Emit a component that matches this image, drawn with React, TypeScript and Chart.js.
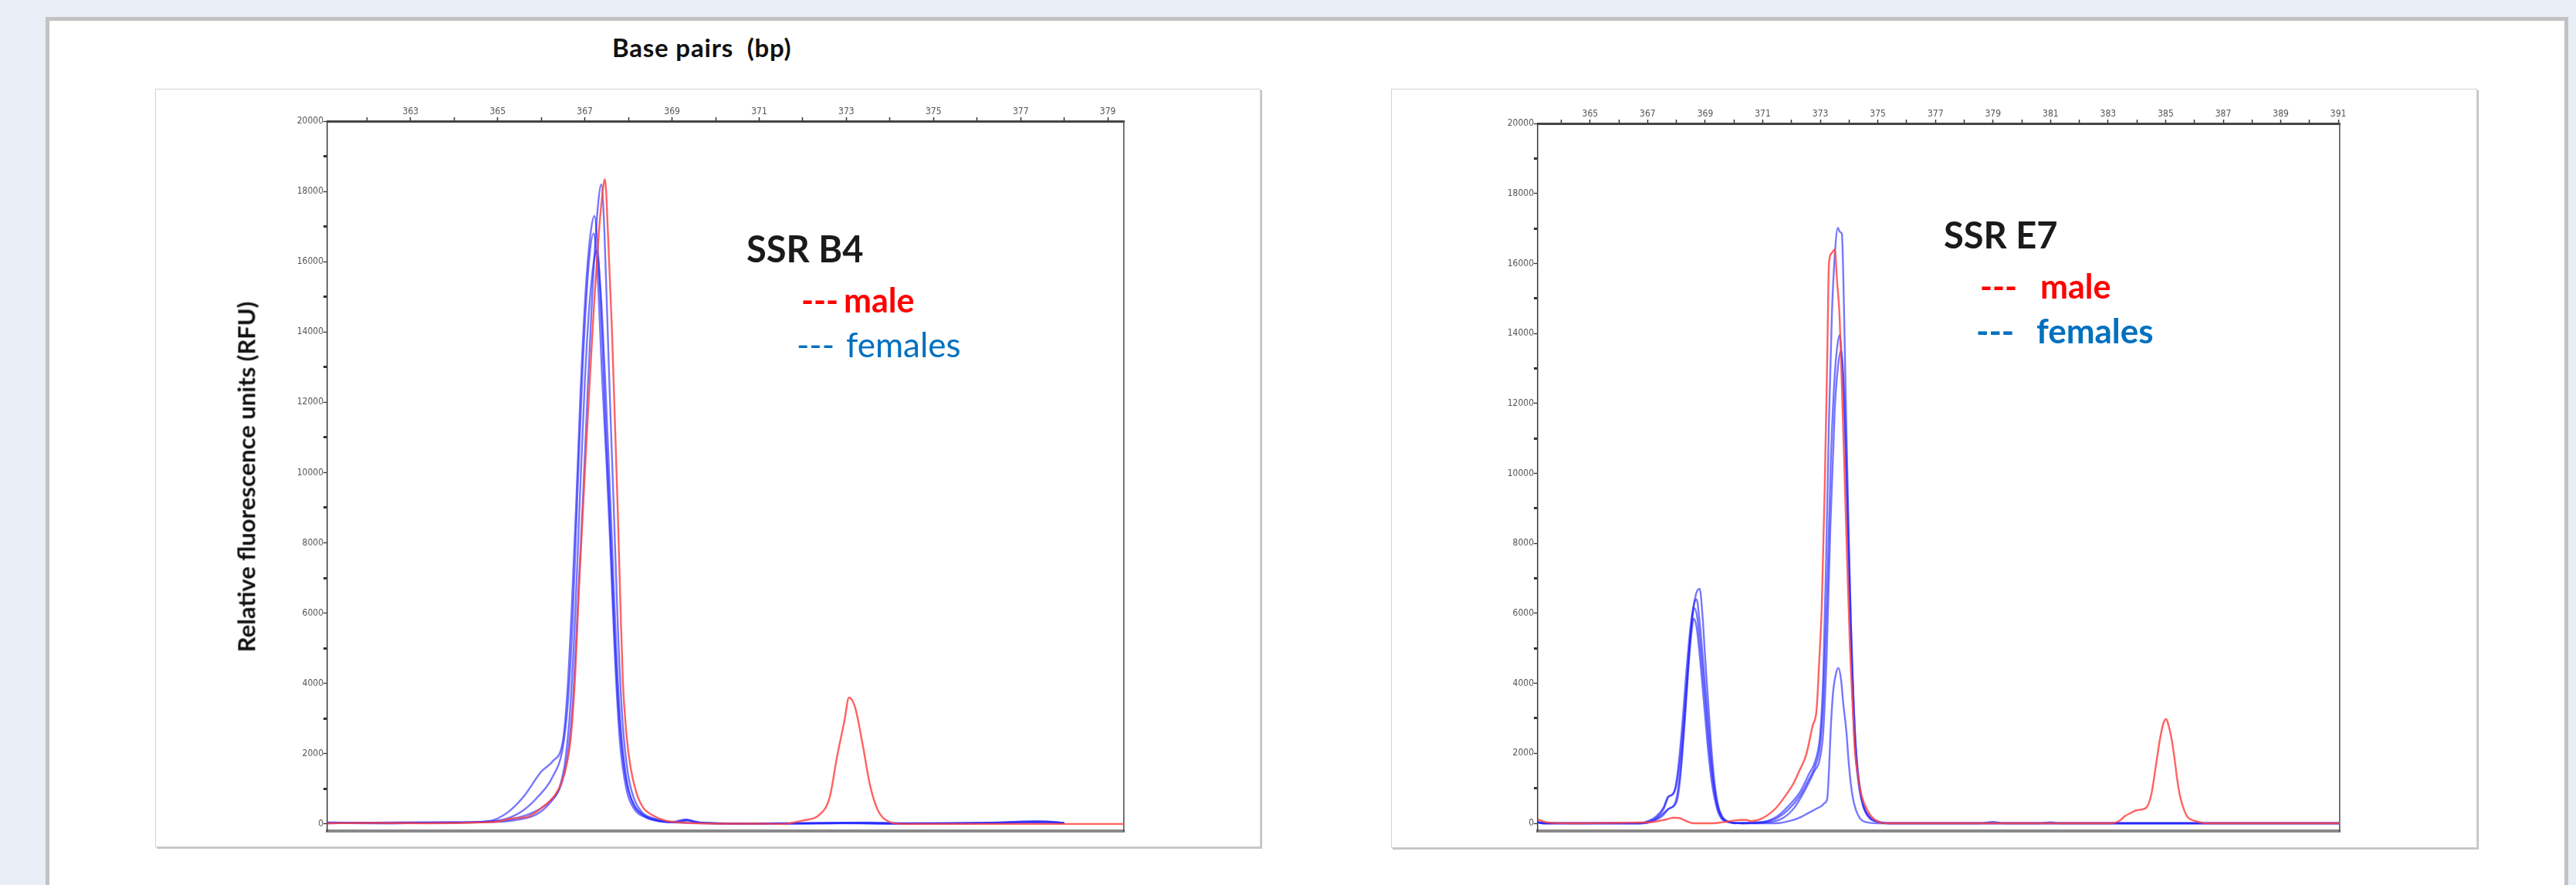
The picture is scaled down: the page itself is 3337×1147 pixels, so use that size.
import React, { useEffect, useRef } from 'react';
import { Chart, registerables } from 'chart.js';
Chart.register(...registerables);

type Pt = [number, number];

// ---------- tick values ----------
const B4_X_TICKS = [362, 363, 364, 365, 366, 367, 368, 369, 370, 371, 372, 373, 374, 375, 376, 377, 378, 379];
const E7_X_TICKS = [364, 365, 366, 367, 368, 369, 370, 371, 372, 373, 374, 375, 376, 377, 378, 379, 380, 381, 382, 383, 384, 385, 386, 387, 388, 389, 390, 391];
const Y_TICKS = [0, 1000, 2000, 3000, 4000, 5000, 6000, 7000, 8000, 9000, 10000, 11000, 12000, 13000, 14000, 15000, 16000, 17000, 18000, 19000, 20000];

// ---------- SSR B4 traces (bp, RFU) ----------
const B4_MALE: Pt[] = [
  [361.1, 20], [362.2, 30], [363.4, 20], [364.5, 40], [365.0, 70], [365.3, 150], [365.7, 210], [366.03, 480],
  [366.3, 800], [366.47, 1190], [366.6, 1800], [366.68, 2480], [366.78, 4300], [366.86, 6600], [366.95, 8800],
  [367.04, 10970], [367.13, 13000], [367.22, 14970], [367.32, 16800], [367.4, 17900], [367.46, 18350],
  [367.54, 16500], [367.62, 14090], [367.68, 11800], [367.75, 9100], [367.81, 6500], [367.87, 4110],
  [367.95, 2600], [368.05, 1600], [368.18, 900], [368.33, 480], [368.55, 250], [368.81, 110], [369.2, 40],
  [370.0, 10], [371.0, 10], [371.52, 0], [372.0, 100], [372.36, 240], [372.62, 770], [372.78, 1870],
  [372.96, 2960], [373.06, 3600], [373.2, 3320], [373.38, 2220], [373.54, 1120], [373.72, 400], [373.97, 70],
  [374.3, 0], [379.37, 0],
];
const B4_FEMALE_1: Pt[] = [
  [361.1, 30], [362.5, 20], [363.5, 40], [364.5, 50], [365.0, 60], [365.5, 130], [365.9, 280], [366.2, 600],
  [366.45, 1100], [366.6, 1900], [366.72, 3400], [366.83, 6000], [366.95, 9100], [367.07, 12500],
  [367.18, 15300], [367.28, 17300], [367.38, 18200], [367.45, 16800], [367.55, 13000], [367.66, 9100],
  [367.76, 5500], [367.86, 3000], [367.98, 1500], [368.12, 750], [368.3, 350], [368.6, 150], [369.0, 60],
  [369.3, 130], [369.5, 60], [370.0, 20], [371.5, 10], [373.0, 20], [374.0, 10], [376.0, 20], [377.0, 60],
  [377.5, 40], [378.0, 20],
];
const B4_FEMALE_2: Pt[] = [
  [361.1, 40], [362.3, 30], [363.2, 50], [364.2, 40], [364.8, 80], [365.23, 330], [365.59, 770], [366.0, 1490],
  [366.26, 1780], [366.5, 2400], [366.6, 3800], [366.7, 6200], [366.8, 9100], [366.9, 12300], [367.02, 15200],
  [367.13, 16800], [367.22, 17300], [367.3, 16300], [367.4, 13800], [367.48, 11200], [367.56, 9100],
  [367.66, 6000], [367.76, 3500], [367.88, 1800], [368.0, 950], [368.15, 500], [368.35, 250], [368.7, 100],
  [369.1, 50], [369.35, 120], [369.6, 40], [370.5, 10], [372.5, 20], [373.5, 40], [374.5, 10], [376.5, 40],
  [377.3, 80], [378.0, 30],
];
const B4_FEMALE_3: Pt[] = [
  [361.1, 20], [362.6, 40], [363.6, 30], [364.6, 60], [365.2, 150], [365.6, 400], [365.92, 770], [366.26, 1340],
  [366.5, 2220], [366.62, 3600], [366.72, 5800], [366.82, 9100], [366.95, 13000], [367.08, 15800],
  [367.2, 16800], [367.28, 15900], [367.4, 12600], [367.5, 10200], [367.58, 8000], [367.68, 5000],
  [367.8, 2400], [367.95, 1000], [368.12, 450], [368.4, 180], [368.8, 60], [369.4, 30], [370.5, 10],
  [373.0, 30], [374.0, 10], [376.8, 30], [377.6, 70], [378.0, 20],
];
const B4_FEMALE_4: Pt[] = [
  [361.1, 30], [362.4, 20], [363.8, 40], [364.8, 60], [365.4, 160], [365.9, 380], [366.2, 650], [366.42, 1050],
  [366.55, 1800], [366.67, 3400], [366.78, 6000], [366.88, 9100], [367.0, 12600], [367.12, 15000],
  [367.27, 16300], [367.36, 15200], [367.46, 12800], [367.54, 10500], [367.62, 8100], [367.72, 5000],
  [367.82, 2800], [367.95, 1300], [368.1, 600], [368.3, 280], [368.6, 110], [369.0, 50], [369.4, 100],
  [369.7, 30], [371.0, 10], [372.8, 30], [374.2, 20], [376.2, 30], [377.8, 50], [378.0, 20],
];

// ---------- SSR E7 traces (bp, RFU) ----------
const E7_MALE: Pt[] = [
  [363.18, 120], [363.35, 60], [363.6, 20], [364.5, 0], [365.5, 10], [366.5, 20], [367.2, 40], [367.6, 100],
  [367.9, 160], [368.1, 150], [368.35, 60], [368.6, 0], [369.2, 0], [369.6, 30], [370.0, 80], [370.4, 100],
  [370.6, 60], [370.95, 130], [371.44, 420], [371.8, 800], [372.06, 1130], [372.3, 1550], [372.51, 1960],
  [372.73, 2780], [372.87, 3250], [372.96, 4600], [373.05, 6200], [373.15, 9500], [373.24, 13300],
  [373.3, 16000], [373.4, 16300], [373.5, 16400], [373.58, 15500], [373.67, 14480], [373.76, 12200],
  [373.85, 9760], [373.94, 7300], [374.03, 5030], [374.12, 3400], [374.2, 2080], [374.32, 1300],
  [374.44, 770], [374.65, 350], [374.85, 130], [375.28, 0], [383.06, 0], [383.43, 90], [383.57, 200],
  [383.8, 300], [384.0, 375], [384.32, 440], [384.5, 820], [384.67, 1700], [384.78, 2300], [384.86, 2650],
  [384.94, 2900], [385.02, 2980], [385.1, 2800], [385.2, 2430], [385.3, 1900], [385.39, 1320], [385.48, 850],
  [385.58, 530], [385.74, 200], [385.9, 100], [386.12, 45], [386.38, 0], [391.05, 0],
];
const E7_FEMALE_1: Pt[] = [
  [363.18, 40], [363.4, 0], [366.7, 0], [367.0, 60], [367.3, 200], [367.55, 450], [367.7, 750], [367.85, 820],
  [368.0, 1100], [368.15, 2000], [368.3, 3400], [368.45, 5000], [368.6, 6200], [368.7, 6600], [368.81, 6700],
  [368.9, 6000], [369.0, 4700], [369.1, 3500], [369.2, 2300], [369.32, 1200], [369.45, 500], [369.6, 180],
  [369.8, 50], [370.0, 0], [370.5, 20], [371.0, 40], [371.5, 200], [371.9, 500], [372.3, 900], [372.6, 1400],
  [372.85, 1850], [373.0, 2600], [373.1, 4200], [373.2, 7500], [373.3, 11500], [373.4, 14500], [373.5, 16200],
  [373.61, 17020], [373.68, 16900], [373.75, 16840], [373.82, 14800], [373.9, 11500], [373.98, 8500],
  [374.06, 5800], [374.15, 3600], [374.25, 2000], [374.38, 1000], [374.5, 500], [374.7, 200], [375.0, 60],
  [375.3, 0], [378.5, 0], [379.0, 40], [379.4, 0], [391.05, 0],
];
const E7_FEMALE_2: Pt[] = [
  [363.18, 30], [363.4, 0], [366.7, 0], [367.0, 50], [367.3, 150], [367.55, 400], [367.74, 770], [367.9, 850],
  [368.05, 1500], [368.2, 2800], [368.35, 4400], [368.5, 5700], [368.62, 6300], [368.7, 6400], [368.8, 5800],
  [368.92, 4700], [369.05, 3400], [369.18, 2100], [369.3, 1100], [369.45, 450], [369.6, 150], [369.85, 30],
  [370.3, 0], [371.0, 30], [371.5, 150], [371.9, 400], [372.3, 800], [372.6, 1250], [372.85, 1700],
  [373.0, 2300], [373.12, 3800], [373.25, 7000], [373.37, 10500], [373.5, 12800], [373.6, 13700],
  [373.67, 13950], [373.74, 13400], [373.82, 12000], [373.92, 9300], [374.02, 6300], [374.12, 3700],
  [374.22, 2000], [374.35, 1000], [374.5, 450], [374.7, 150], [375.0, 40], [375.4, 0], [380.6, 0],
  [381.0, 30], [381.3, 0], [391.05, 0],
];
const E7_FEMALE_3: Pt[] = [
  [363.18, 20], [363.4, 0], [366.8, 0], [367.2, 80], [367.5, 250], [367.7, 400], [367.9, 500], [368.0, 700],
  [368.15, 1600], [368.3, 3200], [368.45, 5000], [368.55, 5900], [368.62, 6150], [368.72, 5900],
  [368.85, 4900], [369.0, 3500], [369.12, 2300], [369.25, 1300], [369.4, 550], [369.55, 200], [369.8, 40],
  [370.3, 0], [371.2, 30], [371.7, 150], [372.1, 450], [372.5, 1000], [372.8, 1500], [372.97, 1800],
  [373.1, 2600], [373.22, 4800], [373.35, 8500], [373.5, 11800], [373.62, 13100], [373.72, 13500],
  [373.8, 12800], [373.9, 10500], [374.0, 7500], [374.1, 4600], [374.2, 2600], [374.32, 1300], [374.48, 550],
  [374.7, 180], [375.0, 40], [375.4, 0], [391.05, 0],
];
const E7_FEMALE_4: Pt[] = [
  [363.18, 30], [363.4, 0], [366.8, 0], [367.2, 60], [367.5, 200], [367.74, 420], [368.0, 600], [368.12, 1200],
  [368.28, 2800], [368.43, 4600], [368.53, 5500], [368.6, 5850], [368.7, 5600], [368.82, 4700], [368.96, 3400],
  [369.1, 2100], [369.24, 1100], [369.4, 450], [369.55, 150], [369.8, 30], [370.3, 0], [371.44, 0],
  [372.0, 80], [372.33, 180], [372.6, 300], [372.87, 420], [373.05, 500], [373.15, 580], [373.24, 700],
  [373.3, 1500], [373.36, 2670], [373.45, 3800], [373.55, 4300], [373.63, 4440], [373.72, 4100],
  [373.8, 3400], [373.9, 2670], [374.0, 1600], [374.12, 770], [374.25, 350], [374.39, 130], [374.6, 30],
  [375.0, 0], [391.05, 0],
];

const TICK_FONT = "'Liberation Sans Narrow', 'DejaVu Sans Condensed', 'DejaVu Sans', sans-serif";
const RED = 'rgba(255, 70, 70, 0.85)';
const BLUE = 'rgba(35, 35, 255, 0.62)';

type Layout = { left: number; top: number; right: number; bottom: number };

function makeConfig(
  male: Pt[],
  females: Pt[][],
  xMin: number,
  xMax: number,
  xTicks: number[],
  yMin: number,
  pad: Layout
): any {
  const toXY = (p: Pt[]) => p.map(([x, y]) => ({ x, y }));
  const datasets: any[] = [
    {
      label: 'male',
      data: toXY(male),
      borderColor: RED,
      borderWidth: 2.4,
      pointRadius: 0,
      cubicInterpolationMode: 'monotone',
      fill: false,
    },
    ...females.map((f, i) => ({
      label: 'female ' + (i + 1),
      data: toXY(f),
      borderColor: BLUE,
      borderWidth: 2.4,
      pointRadius: 0,
      cubicInterpolationMode: 'monotone',
      fill: false,
    })),
  ];
  return {
    type: 'line',
    data: { datasets },
    options: {
      animation: false,
      responsive: false,
      devicePixelRatio: 1,
      layout: { padding: 0 },
      plugins: { legend: { display: false }, tooltip: { enabled: false } },
      scales: {
        x: {
          type: 'linear',
          axis: 'x',
          position: 'top',
          min: xMin,
          max: xMax,
          afterBuildTicks: (s: any) => {
            s.ticks = xTicks.map((v) => ({ value: v }));
          },
          afterFit: (s: any) => {
            s.height = pad.top;
          },
          ticks: {
            autoSkip: false,
            maxRotation: 0,
            padding: 0,
            color: '#555',
            font: { family: TICK_FONT, size: 12 },
            callback: (v: any) => (Math.round(v) % 2 === 1 ? String(v) : ''),
          },
          grid: { drawOnChartArea: false, tickLength: 5, tickColor: '#333', tickWidth: 1.5 },
          border: { color: '#444', width: 3 },
        },
        xb: {
          type: 'linear',
          axis: 'x',
          position: 'bottom',
          ticks: { display: false },
          grid: { display: false, drawTicks: false },
          border: { color: '#8a8a8a', width: 4 },
          afterFit: (s: any) => {
            s.height = pad.bottom;
          },
        },
        y: {
          type: 'linear',
          axis: 'y',
          position: 'left',
          min: yMin,
          max: 20000,
          afterBuildTicks: (s: any) => {
            s.ticks = Y_TICKS.map((v) => ({ value: v }));
          },
          afterFit: (s: any) => {
            s.width = pad.left;
          },
          ticks: {
            autoSkip: false,
            padding: 0,
            color: '#555',
            font: { family: TICK_FONT, size: 12 },
            callback: (v: any) => (Math.round(v) % 2000 === 0 ? String(v) : ''),
          },
          grid: {
            drawOnChartArea: false,
            tickLength: 5,
            tickColor: '#333',
            tickWidth: (ctx: any) => (ctx.tick && ctx.tick.value % 2000 === 0 ? 1.3 : 3),
          },
          border: { color: '#444', width: 1.6 },
        },
        yr: {
          type: 'linear',
          axis: 'y',
          position: 'right',
          ticks: { display: false },
          grid: { display: false, drawTicks: false },
          border: { color: '#555', width: 1.6 },
          afterFit: (s: any) => {
            s.width = pad.right;
          },
        },
      },
    },
  };
}

function ChartBox(props: {
  x: number;
  y: number;
  w: number;
  h: number;
  config: any;
}) {
  const ref = useRef<HTMLCanvasElement | null>(null);
  useEffect(() => {
    if (!ref.current) return;
    const chart = new Chart(ref.current, props.config);
    return () => chart.destroy();
  }, []);
  return (
    <>
      <div
        style={{
          position: 'absolute',
          left: props.x,
          top: props.y,
          width: props.w,
          height: props.h,
          boxSizing: 'border-box',
          background: '#fff',
          border: '1px solid #d2d2d2',
          boxShadow: '2px 2px 0 #c4c4c4',
        }}
      />
      <canvas
        ref={ref}
        width={props.w}
        height={props.h}
        style={{ position: 'absolute', left: props.x, top: props.y, width: props.w, height: props.h }}
      />
    </>
  );
}

const txt = (extra: React.CSSProperties): React.CSSProperties => ({
  position: 'absolute',
  whiteSpace: 'pre',
  lineHeight: 1,
  fontFamily: 'Lato, "Noto Sans", sans-serif',
  ...extra,
});

export default function App() {
  useEffect(() => {
    document.body.style.margin = '0';
    document.documentElement.style.overflow = 'hidden';
  }, []);

  const b4 = makeConfig(B4_MALE, [B4_FEMALE_1, B4_FEMALE_2, B4_FEMALE_3, B4_FEMALE_4], 361.09, 379.37, B4_X_TICKS, -200, {
    left: 223,
    top: 42,
    right: 177,
    bottom: 21,
  });
  const e7 = makeConfig(E7_MALE, [E7_FEMALE_1, E7_FEMALE_2, E7_FEMALE_3, E7_FEMALE_4], 363.18, 391.05, E7_X_TICKS, -220, {
    left: 190,
    top: 45,
    right: 178,
    bottom: 22,
  });

  return (
    <div style={{ position: 'absolute', left: 0, top: 0, width: 3337, height: 1147, overflow: 'hidden', background: '#e9edf5' }}>
      <div
        style={{
          position: 'absolute',
          left: 59,
          top: 22,
          width: 3268,
          height: 1200,
          boxSizing: 'border-box',
          background: '#fff',
          borderTop: '5px solid #c2c2c2',
          borderLeft: '5px solid #c2c2c2',
          borderRight: '5px solid #c2c2c2',
        }}
      />
      <ChartBox x={201} y={115} w={1432} h={983} config={b4} />
      <ChartBox x={1802} y={115} w={1407} h={984} config={e7} />

      <div style={txt({ left: 793, top: 45, fontSize: 33, fontWeight: 700, letterSpacing: 0.8, color: '#111' })}>Base pairs  (bp)</div>
      <div
        style={txt({
          left: 319,
          top: 618,
          fontSize: 31,
          fontWeight: 700,
          color: '#111',
          transform: 'translate(-50%, -50%) rotate(-90deg)',
        })}
      >
        Relative fluorescence units (RFU)
      </div>

      <div style={txt({ left: 967, top: 299, fontSize: 47, fontWeight: 700, color: '#1a1a1a' })}>SSR B4</div>
      <div style={txt({ left: 1038, top: 367, fontSize: 43, fontWeight: 700, color: '#ff0000' })}>---</div>
      <div style={txt({ left: 1093, top: 367, fontSize: 43, fontWeight: 700, color: '#ff0000' })}>male</div>
      <div style={txt({ left: 1032, top: 424, fontSize: 44, fontWeight: 400, color: '#0070c0' })}>---</div>
      <div style={txt({ left: 1096, top: 424, fontSize: 44, fontWeight: 400, color: '#0070c0' })}>females</div>

      <div style={txt({ left: 2518, top: 281, fontSize: 47, fontWeight: 700, color: '#1a1a1a' })}>SSR E7</div>
      <div style={txt({ left: 2565, top: 349, fontSize: 43, fontWeight: 700, color: '#ff0000' })}>---</div>
      <div style={txt({ left: 2643, top: 349, fontSize: 43, fontWeight: 700, color: '#ff0000' })}>male</div>
      <div style={txt({ left: 2560, top: 406, fontSize: 44, fontWeight: 700, color: '#0070c0' })}>---</div>
      <div style={txt({ left: 2638, top: 406, fontSize: 44, fontWeight: 700, color: '#0070c0' })}>females</div>
    </div>
  );
}
